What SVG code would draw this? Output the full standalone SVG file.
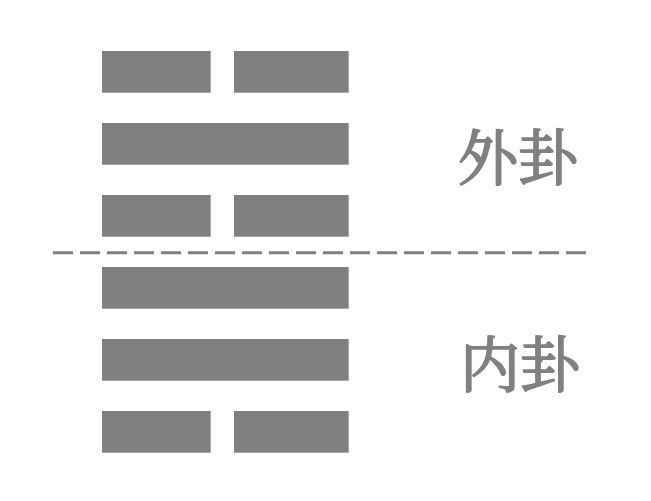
<svg xmlns="http://www.w3.org/2000/svg" width="651" height="501" viewBox="0 0 651 501">
<style>
.bar{fill:#808080}
.lbl{font-family:"Noto Serif CJK SC","Noto Sans CJK SC",serif;font-size:60px;fill:#808080;stroke:#808080;stroke-width:1.8;stroke-linejoin:round;text-anchor:middle}
.div{stroke:#808080;stroke-width:3;stroke-dasharray:20 7;fill:none}
</style>
<rect width="651" height="501" fill="#fff"/>
<g id="line6"><rect class="bar" x="102" y="51" width="108.7" height="41.7"/><rect class="bar" x="234" y="51" width="114.7" height="41.7"/></g>
<g id="line5"><rect class="bar" x="102" y="123" width="246.7" height="41.7"/></g>
<g id="line4"><rect class="bar" x="102" y="195" width="108.7" height="41.7"/><rect class="bar" x="234" y="195" width="114.7" height="41.7"/></g>
<g id="line3"><rect class="bar" x="102" y="267" width="246.7" height="41.7"/></g>
<g id="line2"><rect class="bar" x="102" y="339" width="246.7" height="41.7"/></g>
<g id="line1"><rect class="bar" x="102" y="411" width="108.7" height="41.7"/><rect class="bar" x="234" y="411" width="114.7" height="41.7"/></g>
<g id="connectors"><line class="div" x1="53" y1="252.7" x2="586" y2="252.7"/></g>
<g id="outer"><text class="lbl" x="518" y="180">外卦</text></g>
<g id="inner"><text class="lbl" x="520" y="387">内卦</text></g>
</svg>
